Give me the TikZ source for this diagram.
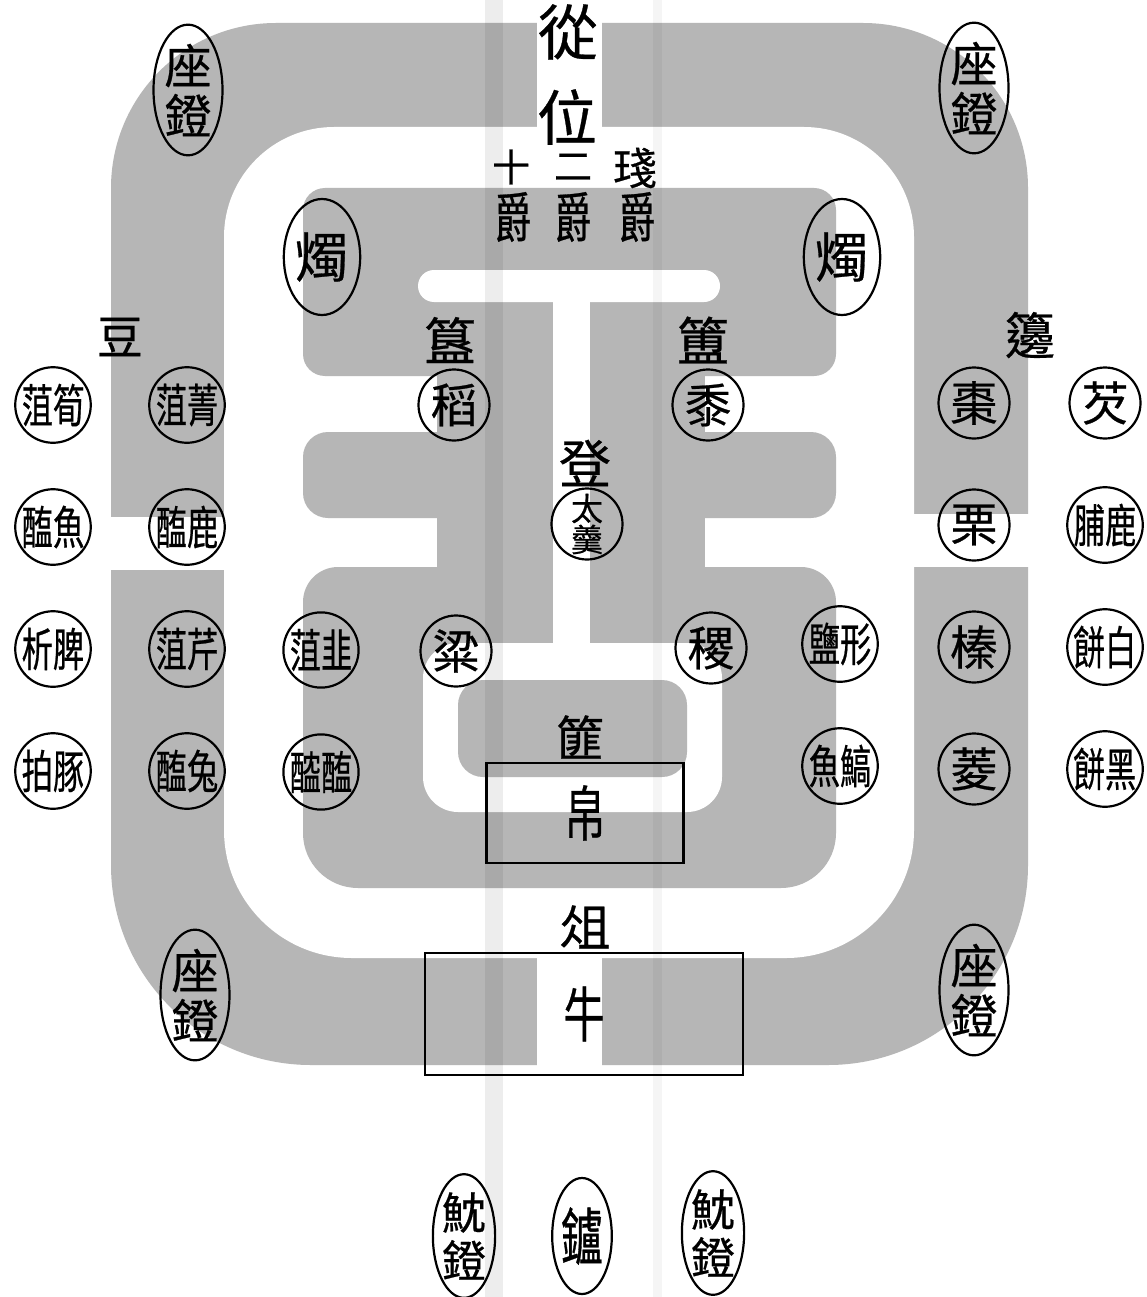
\documentclass[tikz,border=0pt]{standalone}
\usepackage{fontspec}
\setmainfont{Noto Sans CJK TC}[FakeBold=0.5]
\newfontfamily\cjknarrow[FakeStretch=0.68, FakeBold=0.5]{Noto Sans CJK TC}
\usetikzlibrary{positioning, shapes.geometric}
\definecolor{band}{RGB}{182,182,182}
\newcommand{\charsize}[1]{\fontsize{#1}{#1}\selectfont}

\begin{document}
\begin{tikzpicture}[
    x=1pt, y=-1pt,
    node distance=122pt,
    vessel/.style={inner sep=0pt},
    dish/.style={circle, draw, line width=2.2pt, minimum size=71pt, inner sep=0pt, font=\cjknarrow\charsize{46}},
    onedish/.style={dish, font=\charsize{47}},
    lamp/.style={ellipse, draw, line width=2.2pt, minimum width=69pt, minimum height=116pt, inner sep=0pt, align=center, font=\fontsize{47}{50}\selectfont},
    plate/.style={draw, line width=2.8pt, inner sep=0pt}
]
\useasboundingbox (0,0) rectangle (1146,1297);
\fill[white] (0,0) rectangle (1146,1297);

% outer band
\fill[band] (111,540) [rounded corners=165pt] |- (570,23) -| (1028,540)
    [rounded corners=200pt] |- (570,1065) -| (111,540) -- cycle;
\fill[white] (224,540) [rounded corners=110pt] |- (570,127) -| (914,540)
    [rounded corners=128pt] |- (570,958) -| (224,540) -- cycle;
\fill[white] (537,0) rectangle (602,130);
\fill[white] (537,955) rectangle (602,1068);
\fill[white] (108,517) rectangle (227,570);
\fill[white] (911,514) rectangle (1031,567);

% inner figure
\fill[band, rounded corners=22pt] (303,188) rectangle (836,376);
\fill[band] (437,360) rectangle (705,445);
\fill[band, rounded corners=25pt] (303,432) rectangle (836,518);
\fill[band] (437,505) rectangle (705,580);
\fill[band] (303,700) [rounded corners=35pt] |- (570,567) -| (836,700)
    [rounded corners=55pt] |- (570,888) -| (303,700) -- cycle;
\fill[white, rounded corners=16pt] (418,270) rectangle (720,302);
\fill[white] (553,290) rectangle (590,650);
\fill[white, rounded corners=35pt] (423,643) rectangle (722,812);
\fill[band, rounded corners=25pt] (458,680) rectangle (687,777);

% fold marks
\fill[black, opacity=0.07] (485,0) rectangle (503,1297);
\fill[black, opacity=0.04] (653,0) rectangle (662,1297);

% seat
\node[vessel, font=\charsize{60}] (cong) at (568,32) {從};
\node[vessel, font=\charsize{60}] (wei) at (567,117) {位};
\node[vessel, font=\charsize{38}] (shi) at (511,167) {十};
\node[vessel, font=\charsize{38}] (er) at (573,167) {二};
\node[vessel, font=\charsize{44}] (zhan) at (635,168) {琖};
\node[vessel, font=\cjknarrow\charsize{54}] (jueA) at (513,217) {爵};
\node[vessel, font=\cjknarrow\charsize{54}] (jueB) at (573,217) {爵};
\node[vessel, font=\cjknarrow\charsize{54}] (jueC) at (637,217) {爵};

% lamps
\node[lamp] (dengTL) at (188,90) {座\\鐙};
\node[lamp] (dengTR) at (974,88) {座\\鐙};
\node[lamp] (dengBL) at (195,995) {座\\鐙};
\node[lamp] (dengBR) at (974,990) {座\\鐙};
\node[lamp, font=\charsize{54}] (zhuL) at (322,257) {燭};
\node[lamp, font=\charsize{54}] (zhuR) at (842,257) {燭};

% headings
\node[vessel, font=\charsize{46}] (dou) at (120,337) {豆};
\node[vessel, font=\charsize{50}] (bian) at (1030,335) {籩};
\node[vessel, font=\charsize{52}] (gui) at (450,340) {簋};
\node[vessel, font=\charsize{52}] (fu) at (703,340) {簠};

% dou column
\node[dish] (sunzu) at (53,405) {菹筍};
\node[dish] (yuhai) [below of=sunzu] {醢魚};
\node[dish] (pixi) [below of=yuhai] {析脾};
\node[dish] (tunpo) [below of=pixi] {拍豚};
\node[dish] (jingzu) at (187,405) {菹菁};
\node[dish] (luhai) [below of=jingzu] {醢鹿};
\node[dish] (qinzu) [below of=luhai] {菹芹};
\node[dish] (tuhai) [below of=qinzu] {醢兔};
\node[dish] (jiuzu) at (321,650) {菹韭};
\node[dish] (tanhai) [below of=jiuzu] {醓醢};

% grain
\node[onedish] (dao) at (454,405) {稻};
\node[onedish] (liang) at (456,651) {粱};
\node[onedish] (shu) at (708,405) {黍};
\node[onedish] (ji) at (711,648) {稷};
\node[vessel, font=\charsize{52}] (dengA) at (585,463) {登};
\node[dish, font=\fontsize{32}{31}\selectfont, align=center] (geng) at (587,524) {太\\羹};

% bian column
\node[dish] (xingyan) at (840,644) {鹽形};
\node[dish] (yuhao) [below of=xingyan] {魚鰝};
\node[onedish] (zao) at (974,403) {棗};
\node[onedish] (li) [below of=zao] {栗};
\node[onedish] (zhen) [below of=li] {榛};
\node[onedish] (ling) [below of=zhen] {菱};
\node[onedish] (qian) at (1105,403) {芡};
\node[dish] (lufu) [below of=qian] {脯鹿};
\node[dish] (baibing) [below of=lufu] {餅白};
\node[dish] (heibing) [below of=baibing] {餅黑};

% offerings
\node[vessel, font=\charsize{48}] (fei) at (580,737) {篚};
\node[plate, minimum width=197pt, minimum height=100pt, font=\cjknarrow\charsize{60}] (bo) at (585,813) {帛};
\node[vessel, font=\charsize{50}] (zu) at (585,927) {俎};
\node[plate, minimum width=318pt, minimum height=122pt, font=\cjknarrow\charsize{60}] (niu) at (584,1014) {牛};

% front
\node[lamp, minimum width=62pt, font=\fontsize{44}{48}\selectfont] (shenL) at (464,1236) {魫\\鐙};
\node[lamp, minimum width=58pt, font=\cjknarrow\charsize{62}] (lu) at (582,1236) {鑪};
\node[lamp, minimum width=62pt, font=\fontsize{44}{48}\selectfont] (shenR) at (713,1233) {魫\\鐙};
\end{tikzpicture}
\end{document}
